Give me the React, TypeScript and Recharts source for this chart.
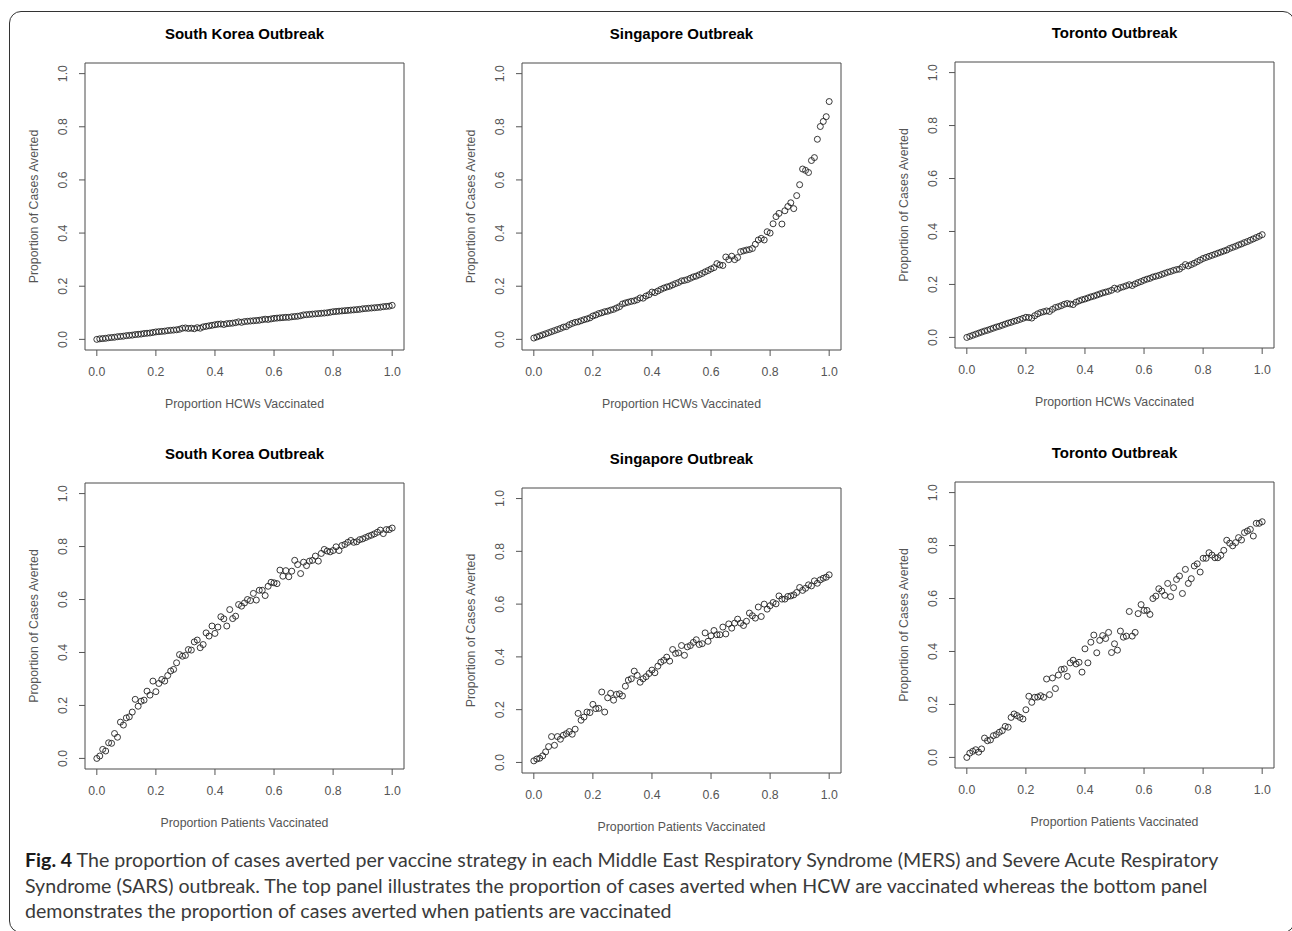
import { ScatterChart, Scatter, XAxis, YAxis, ReferenceArea } from 'recharts';

// proportion vaccinated (x) shared by every panel
const PROPORTION = [
  0.00, 0.01, 0.02, 0.03, 0.04, 0.05, 0.06, 0.07, 0.08, 0.09,
  0.10, 0.11, 0.12, 0.13, 0.14, 0.15, 0.16, 0.17, 0.18, 0.19,
  0.20, 0.21, 0.22, 0.23, 0.24, 0.25, 0.26, 0.27, 0.28, 0.29,
  0.30, 0.31, 0.32, 0.33, 0.34, 0.35, 0.36, 0.37, 0.38, 0.39,
  0.40, 0.41, 0.42, 0.43, 0.44, 0.45, 0.46, 0.47, 0.48, 0.49,
  0.50, 0.51, 0.52, 0.53, 0.54, 0.55, 0.56, 0.57, 0.58, 0.59,
  0.60, 0.61, 0.62, 0.63, 0.64, 0.65, 0.66, 0.67, 0.68, 0.69,
  0.70, 0.71, 0.72, 0.73, 0.74, 0.75, 0.76, 0.77, 0.78, 0.79,
  0.80, 0.81, 0.82, 0.83, 0.84, 0.85, 0.86, 0.87, 0.88, 0.89,
  0.90, 0.91, 0.92, 0.93, 0.94, 0.95, 0.96, 0.97, 0.98, 0.99,
  1.00,
];

const TICKS = [0, 0.2, 0.4, 0.6, 0.8, 1.0];

// HCWs vaccinated
const SOUTH_KOREA_HCW = [
  0.000, 0.002, 0.003, 0.004, 0.006, 0.007, 0.008, 0.010, 0.011, 0.012,
  0.014, 0.015, 0.016, 0.018, 0.019, 0.020, 0.022, 0.023, 0.024, 0.026,
  0.028, 0.029, 0.030, 0.031, 0.033, 0.034, 0.035, 0.036, 0.038, 0.042,
  0.043, 0.041, 0.042, 0.040, 0.044, 0.042, 0.047, 0.049, 0.051, 0.053,
  0.055, 0.057, 0.058, 0.056, 0.059, 0.060, 0.061, 0.063, 0.066, 0.064,
  0.067, 0.068, 0.069, 0.070, 0.071, 0.072, 0.074, 0.076, 0.075, 0.077,
  0.079, 0.080, 0.081, 0.082, 0.083, 0.083, 0.085, 0.086, 0.087, 0.089,
  0.092, 0.093, 0.094, 0.095, 0.096, 0.097, 0.098, 0.099, 0.100, 0.102,
  0.104, 0.105, 0.106, 0.107, 0.108, 0.109, 0.110, 0.111, 0.112, 0.113,
  0.115, 0.116, 0.117, 0.118, 0.119, 0.120, 0.121, 0.123, 0.124, 0.125,
  0.128,
];

const SINGAPORE_HCW = [
  0.005, 0.009, 0.013, 0.017, 0.021, 0.025, 0.029, 0.033, 0.037, 0.041,
  0.046, 0.048, 0.055, 0.060, 0.064, 0.066, 0.070, 0.074, 0.077, 0.081,
  0.088, 0.092, 0.097, 0.100, 0.104, 0.106, 0.110, 0.113, 0.118, 0.123,
  0.133, 0.137, 0.140, 0.143, 0.145, 0.149, 0.156, 0.155, 0.163, 0.168,
  0.178, 0.176, 0.182, 0.188, 0.193, 0.197, 0.200, 0.205, 0.210, 0.214,
  0.220, 0.222, 0.225, 0.230, 0.235, 0.238, 0.243, 0.248, 0.254, 0.259,
  0.265, 0.270, 0.285, 0.280, 0.278, 0.310, 0.300, 0.313, 0.300, 0.308,
  0.330, 0.333, 0.336, 0.338, 0.342, 0.358, 0.374, 0.380, 0.374, 0.405,
  0.400, 0.435, 0.462, 0.474, 0.434, 0.484, 0.500, 0.514, 0.492, 0.541,
  0.582, 0.641, 0.636, 0.628, 0.673, 0.684, 0.753, 0.801, 0.820, 0.838,
  0.895,
];

const TORONTO_HCW = [
  0.000, 0.004, 0.008, 0.012, 0.016, 0.020, 0.024, 0.027, 0.031, 0.035,
  0.039, 0.042, 0.046, 0.050, 0.054, 0.057, 0.061, 0.064, 0.068, 0.072,
  0.076, 0.075, 0.073, 0.082, 0.089, 0.094, 0.097, 0.100, 0.098, 0.106,
  0.113, 0.116, 0.120, 0.125, 0.128, 0.126, 0.124, 0.133, 0.138, 0.142,
  0.145, 0.149, 0.153, 0.156, 0.160, 0.164, 0.168, 0.171, 0.174, 0.178,
  0.186, 0.182, 0.188, 0.191, 0.195, 0.199, 0.196, 0.202, 0.207, 0.211,
  0.216, 0.220, 0.223, 0.228, 0.231, 0.234, 0.238, 0.242, 0.246, 0.249,
  0.253, 0.256, 0.258, 0.266, 0.275, 0.270, 0.275, 0.280, 0.286, 0.292,
  0.298, 0.302, 0.306, 0.310, 0.314, 0.318, 0.322, 0.326, 0.330, 0.336,
  0.340, 0.344, 0.349, 0.353, 0.358, 0.362, 0.367, 0.372, 0.377, 0.382,
  0.388,
];

// patients vaccinated
const SOUTH_KOREA_PATIENTS = [
  0.000, 0.009, 0.034, 0.028, 0.059, 0.057, 0.094, 0.080, 0.137, 0.126,
  0.153, 0.157, 0.175, 0.223, 0.197, 0.216, 0.220, 0.254, 0.239, 0.292,
  0.252, 0.283, 0.298, 0.292, 0.313, 0.330, 0.336, 0.361, 0.392, 0.386,
  0.389, 0.411, 0.409, 0.440, 0.447, 0.418, 0.430, 0.474, 0.462, 0.500,
  0.472, 0.496, 0.535, 0.527, 0.500, 0.562, 0.528, 0.537, 0.581, 0.575,
  0.587, 0.600, 0.596, 0.623, 0.598, 0.635, 0.635, 0.615, 0.650, 0.665,
  0.663, 0.660, 0.711, 0.688, 0.709, 0.686, 0.707, 0.748, 0.732, 0.698,
  0.741, 0.728, 0.745, 0.748, 0.764, 0.745, 0.774, 0.789, 0.783, 0.780,
  0.785, 0.799, 0.785, 0.804, 0.808, 0.816, 0.823, 0.816, 0.818, 0.826,
  0.829, 0.834, 0.839, 0.843, 0.848, 0.854, 0.862, 0.849, 0.864, 0.864,
  0.870,
];

const SINGAPORE_PATIENTS = [
  0.006, 0.013, 0.016, 0.025, 0.040, 0.060, 0.098, 0.065, 0.098, 0.088,
  0.103, 0.109, 0.117, 0.107, 0.126, 0.186, 0.160, 0.172, 0.191, 0.189,
  0.220, 0.204, 0.205, 0.267, 0.191, 0.245, 0.262, 0.236, 0.258, 0.260,
  0.252, 0.289, 0.312, 0.317, 0.346, 0.330, 0.304, 0.317, 0.325, 0.337,
  0.350, 0.340, 0.365, 0.380, 0.387, 0.399, 0.384, 0.428, 0.413, 0.415,
  0.443, 0.406, 0.438, 0.443, 0.455, 0.465, 0.447, 0.450, 0.491, 0.459,
  0.480, 0.500, 0.484, 0.484, 0.513, 0.487, 0.525, 0.509, 0.528, 0.543,
  0.528, 0.519, 0.535, 0.566, 0.556, 0.547, 0.589, 0.553, 0.600, 0.581,
  0.594, 0.606, 0.601, 0.631, 0.619, 0.619, 0.629, 0.631, 0.635, 0.644,
  0.663, 0.652, 0.660, 0.673, 0.669, 0.688, 0.679, 0.692, 0.698, 0.702,
  0.711,
];

const TORONTO_PATIENTS = [
  0.000, 0.016, 0.023, 0.029, 0.020, 0.032, 0.073, 0.063, 0.066, 0.082,
  0.086, 0.095, 0.101, 0.117, 0.114, 0.151, 0.164, 0.158, 0.151, 0.145,
  0.180, 0.231, 0.208, 0.227, 0.228, 0.233, 0.227, 0.296, 0.237, 0.300,
  0.260, 0.311, 0.332, 0.334, 0.306, 0.357, 0.367, 0.353, 0.359, 0.322,
  0.410, 0.357, 0.435, 0.462, 0.395, 0.442, 0.460, 0.449, 0.472, 0.396,
  0.429, 0.405, 0.477, 0.454, 0.458, 0.551, 0.458, 0.472, 0.543, 0.577,
  0.555, 0.555, 0.540, 0.600, 0.609, 0.637, 0.628, 0.612, 0.657, 0.607,
  0.641, 0.672, 0.685, 0.619, 0.710, 0.657, 0.675, 0.723, 0.731, 0.700,
  0.752, 0.752, 0.773, 0.764, 0.754, 0.754, 0.763, 0.782, 0.820, 0.809,
  0.799, 0.811, 0.830, 0.821, 0.849, 0.855, 0.861, 0.836, 0.884, 0.884,
  0.890,
];

const HCW_LABEL = 'Proportion HCWs Vaccinated';
const PATIENT_LABEL = 'Proportion Patients Vaccinated';
const Y_LABEL = 'Proportion of Cases Averted';

// plot box of every panel in page pixels: left, top, right, bottom
const PANELS = [
  { title: 'South Korea Outbreak', xLabel: HCW_LABEL, values: SOUTH_KOREA_HCW, box: [85, 63, 404, 350] },
  { title: 'Singapore Outbreak', xLabel: HCW_LABEL, values: SINGAPORE_HCW, box: [522, 63, 841, 350] },
  { title: 'Toronto Outbreak', xLabel: HCW_LABEL, values: TORONTO_HCW, box: [955, 62, 1274, 348] },
  { title: 'South Korea Outbreak', xLabel: PATIENT_LABEL, values: SOUTH_KOREA_PATIENTS, box: [85, 483, 404, 769] },
  { title: 'Singapore Outbreak', xLabel: PATIENT_LABEL, values: SINGAPORE_PATIENTS, box: [522, 488, 841, 773] },
  { title: 'Toronto Outbreak', xLabel: PATIENT_LABEL, values: TORONTO_PATIENTS, box: [955, 482, 1274, 768] },
];

const ML = 60;
const MT = 50;
const MR = 10;
const MB = 70;
const AXIS_GREY = '#555';
const FONT = 'Arial, "Liberation Sans", sans-serif';

const XTick = ({ x, y, payload }: any) => (
  <text x={x} y={y} textAnchor="middle" dominantBaseline="central"
    fontSize={12.3} fill={AXIS_GREY} fontFamily={FONT}>
    {Number(payload.value).toFixed(1)}
  </text>
);

const YTick = ({ x, y, payload }: any) => (
  <text x={x} y={y} transform={`rotate(-90 ${x} ${y})`} textAnchor="middle" dominantBaseline="central"
    fontSize={12.3} fill={AXIS_GREY} fontFamily={FONT}>
    {Number(payload.value).toFixed(1)}
  </text>
);

const Ring = (props: any) => (
  <circle cx={props.cx} cy={props.cy} r={3} fill="none" stroke="#222" strokeWidth={0.9} />
);

function Panel({ title, xLabel, values, box }: any) {
  const [x0, y0, x1, y1] = box;
  const w = x1 - x0;
  const h = y1 - y0;
  const data = PROPORTION.map((p, i) => ({ x: p, y: values[i] }));
  return (
    <div style={{ position: 'absolute', left: x0 - ML, top: y0 - MT, width: w + ML + MR, height: h + MT + MB }}>
      <ScatterChart width={w + ML + MR} height={h + MT + MB} margin={{ top: MT, right: MR, bottom: 0, left: 0 }}>
        <XAxis
          type="number" dataKey="x" domain={[-0.04, 1.04]} ticks={TICKS} interval={0}
          height={MB} axisLine={false} tickSize={6} tickMargin={16}
          tickLine={{ stroke: AXIS_GREY }} tick={<XTick />}
          label={{ value: xLabel, position: 'insideBottom', offset: 12.5, fill: AXIS_GREY, fontSize: 12.3, fontFamily: FONT }}
        />
        <YAxis
          type="number" dataKey="y" domain={[-0.04, 1.04]} ticks={TICKS} interval={0}
          width={ML} axisLine={false} tickSize={6} tickMargin={16}
          tickLine={{ stroke: AXIS_GREY }} tick={<YTick />}
          label={{ value: Y_LABEL, angle: -90, position: 'insideLeft', offset: 9, fill: AXIS_GREY, fontSize: 12.3, fontFamily: FONT, style: { textAnchor: 'middle' } }}
        />
        <ReferenceArea x1={-0.04} x2={1.04} y1={-0.04} y2={1.04} fill="none" fillOpacity={0} stroke="#4a4a4a" strokeWidth={1} />
        <Scatter data={data} shape={Ring} isAnimationActive={false} />
      </ScatterChart>
      <div style={{
        position: 'absolute', left: ML, width: w, top: MT - 29 - 10, height: 20, lineHeight: '20px',
        textAlign: 'center', fontWeight: 'bold', fontSize: 15, color: '#000', fontFamily: FONT,
      }}>
        {title}
      </div>
    </div>
  );
}

const CAPTION_LINES = [
  'The proportion of cases averted per vaccine strategy in each Middle East Respiratory Syndrome (MERS) and Severe Acute Respiratory',
  'Syndrome (SARS) outbreak. The top panel illustrates the proportion of cases averted when HCW are vaccinated whereas the bottom panel',
  'demonstrates the proportion of cases averted when patients are vaccinated',
];

export default function App() {
  return (
    <div style={{ position: 'absolute', left: 0, top: 0, width: 1292, height: 931, overflow: 'hidden', background: '#fff' }}>
      <div style={{
        position: 'absolute', left: 9, top: 11, width: 1284, height: 920,
        border: '1.5px solid #333', borderRadius: 12,
      }} />
      {PANELS.map((p, i) => <Panel key={i} {...p} />)}
      <div style={{
        position: 'absolute', left: 25, top: 847, fontFamily: 'Lato, "Open Sans", sans-serif',
        fontSize: 19.6, lineHeight: '25.5px', color: '#3a3a3a', whiteSpace: 'nowrap',
      }}>
        <div><b style={{ color: '#1a1a1a' }}>Fig. 4</b> {CAPTION_LINES[0]}</div>
        <div>{CAPTION_LINES[1]}</div>
        <div>{CAPTION_LINES[2]}</div>
      </div>
    </div>
  );
}
